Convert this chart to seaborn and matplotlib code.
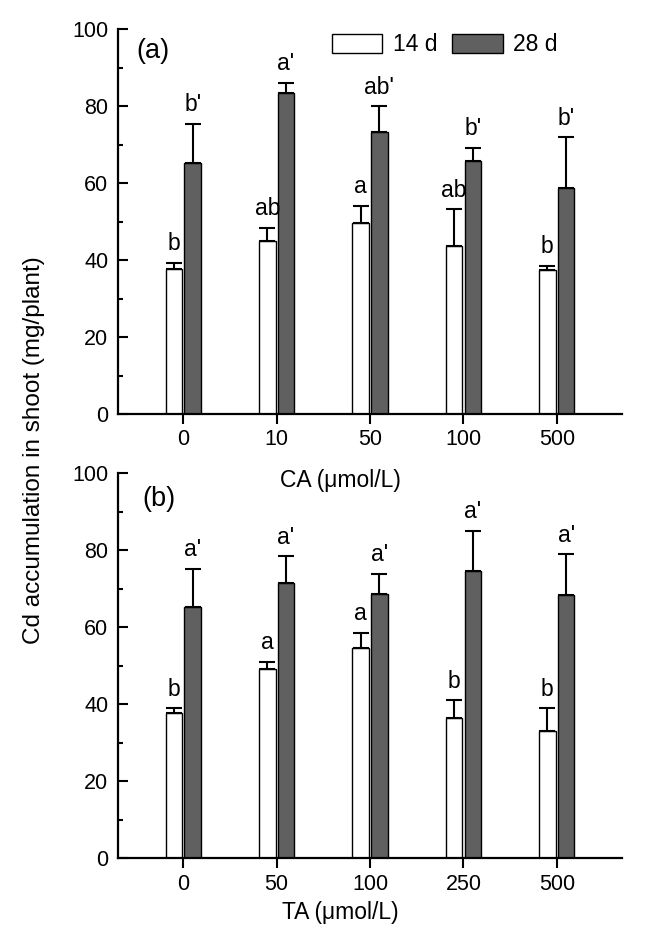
import numpy as np
import pandas as pd
import seaborn as sns
import matplotlib.pyplot as plt
from matplotlib.patches import Patch
from matplotlib.ticker import MultipleLocator

# panel (a): citric acid
ca_conc = ['0', '10', '50', '100', '500']
ca_14d = [37.8, 45.0, 49.6, 43.6, 37.5]
ca_14d_err = [1.4, 3.4, 4.5, 9.6, 1.0]
ca_28d = [65.3, 83.3, 73.2, 65.7, 58.8]
ca_28d_err = [10.1, 2.8, 6.7, 3.4, 13.1]
ca_14d_letters = ['b', 'ab', 'a', 'ab', 'b']
ca_28d_letters = ["b'", "a'", "ab'", "b'", "b'"]

# panel (b): tartaric acid
ta_conc = ['0', '50', '100', '250', '500']
ta_14d = [37.6, 49.2, 54.7, 36.5, 33.1]
ta_14d_err = [1.3, 1.8, 3.9, 4.5, 5.8]
ta_28d = [65.2, 71.5, 68.7, 74.5, 68.4]
ta_28d_err = [10.0, 6.9, 5.1, 10.6, 10.5]
ta_14d_letters = ['b', 'a', 'a', 'b', 'b']
ta_28d_letters = ["a'", "a'", "a'", "a'", "a'"]

times = ['14 d', '28 d']
colors = ['white', '#606060']

sns.set_style('ticks')
plt.rcParams['font.family'] = ['Liberation Sans', 'DejaVu Sans']
plt.rcParams['text.color'] = 'black'
plt.rcParams['xtick.color'] = 'black'
plt.rcParams['ytick.color'] = 'black'
plt.rcParams['axes.edgecolor'] = 'black'


def make_df(conc, v14, v28):
    return pd.DataFrame({
        'conc': conc * 2,
        'value': v14 + v28,
        'time': [times[0]] * len(conc) + [times[1]] * len(conc),
    })


def draw_panel(ax, conc, v14, e14, v28, e28, l14, l28):
    df = make_df(conc, v14, v28)
    sns.barplot(data=df, x='conc', y='value', hue='time', order=conc,
                hue_order=times, palette=colors, width=0.4, gap=0.12,
                edgecolor='black', linewidth=1.0, errorbar=None,
                legend=False, ax=ax)
    for cont, err, letters in zip(ax.containers, [e14, e28], [l14, l28]):
        xs = [b.get_x() + b.get_width() / 2 for b in cont]
        hs = [b.get_height() for b in cont]
        ax.errorbar(xs, hs, yerr=[np.zeros(len(err)), err], fmt='none',
                    ecolor='black', elinewidth=1.5, capsize=5.5,
                    capthick=1.5, zorder=3)
        for x, h, e, t in zip(xs, hs, err, letters):
            ax.text(x, h + e + 2.0, t, ha='center', va='bottom',
                    fontsize=16.5)

    ax.set_xlim(-0.7, 4.7)
    ax.set_ylim(0, 100)
    ax.yaxis.set_major_locator(MultipleLocator(20))
    ax.yaxis.set_minor_locator(MultipleLocator(10))
    ax.tick_params(axis='y', which='major', direction='in', length=7,
                   width=1.5, labelsize=15.5, pad=7)
    ax.tick_params(axis='y', which='minor', direction='in', length=3.5,
                   width=1.5)
    ax.tick_params(axis='x', direction='out', length=7, width=1.5,
                   labelsize=15.5, pad=4)
    ax.set_xlabel('')
    ax.set_ylabel('')
    for s in ['top', 'right']:
        ax.spines[s].set_visible(False)
    for s in ['left', 'bottom']:
        ax.spines[s].set_linewidth(1.6)


fig = plt.figure(figsize=(6.59, 9.35), dpi=100)
ax1 = fig.add_axes([0.179, 0.557, 0.765, 0.412])
ax2 = fig.add_axes([0.179, 0.082, 0.765, 0.412])

draw_panel(ax1, ca_conc, ca_14d, ca_14d_err, ca_28d, ca_28d_err,
           ca_14d_letters, ca_28d_letters)
draw_panel(ax2, ta_conc, ta_14d, ta_14d_err, ta_28d, ta_28d_err,
           ta_14d_letters, ta_28d_letters)

handles = [Patch(facecolor=c, edgecolor='black', linewidth=1.0) for c in colors]
ax1.legend(handles, times, ncol=2, frameon=False, fontsize=16.5,
           loc='upper left', bbox_to_anchor=(332 / 659, 1 - 33 / 935),
           bbox_transform=fig.transFigure, borderpad=0, borderaxespad=0,
           handlelength=2.2, handleheight=0.9, handletextpad=0.45,
           columnspacing=0.65)

fig.text(136 / 659, 1 - 51 / 935, '(a)', fontsize=19.5, va='center')
fig.text(142 / 659, 1 - 499 / 935, '(b)', fontsize=19.5, va='center')
fig.text(340 / 659, 1 - 480 / 935, 'CA (μmol/L)', fontsize=16.5,
         ha='center', va='center')
fig.text(340 / 659, 1 - 913 / 935, 'TA (μmol/L)', fontsize=16.5,
         ha='center', va='center')
fig.text(34 / 659, 1 - 450 / 935, 'Cd accumulation in shoot (mg/plant)',
         fontsize=17.5, rotation=90, ha='center', va='center')

fig.savefig('out.png', dpi=100)
